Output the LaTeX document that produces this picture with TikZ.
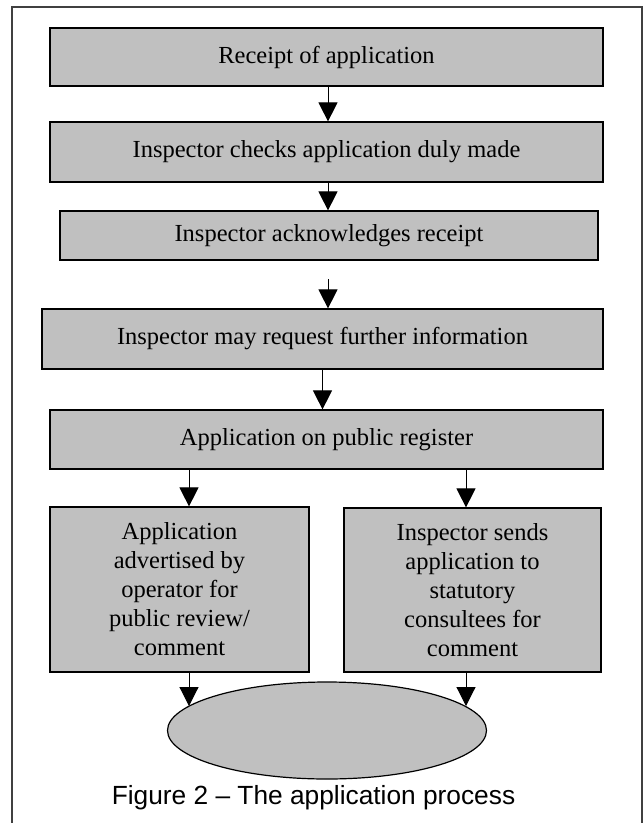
\documentclass[tikz,border=0pt]{standalone}
\usepackage{fontspec}
\setmainfont{Liberation Serif}
\newfontfamily\capfont{Liberation Sans}
\usetikzlibrary{shapes,arrows.meta}
\definecolor{boxgray}{RGB}{192,192,192}
\definecolor{framegray}{RGB}{64,64,64}

\begin{document}
\begin{tikzpicture}[x=1pt,y=-1pt,
  stage/.style={draw,fill=boxgray,line width=1.2pt,inner sep=0pt,align=center,font=\fontsize{24.5}{29}\selectfont},
  flow/.style={line width=1pt,-{Triangle[length=19pt,width=19pt]}}]
  \useasboundingbox (0,0) rectangle (644,823);
  \draw[framegray,line width=2pt] (12,823) -- (12,7) -- (642,7) -- (642,823);
  \node[stage,minimum width=553pt,minimum height=58pt] (receipt) at (326.5,57) {Receipt of application};
  \node[stage,minimum width=553pt,minimum height=60pt] (check) at (326.5,152) {Inspector checks application duly made};
  \node[stage,minimum width=538pt,minimum height=49pt] (ack) at (329,235.5) {Inspector acknowledges receipt};
  \node[stage,minimum width=561pt,minimum height=60pt] (reqinfo) at (322.5,339) {Inspector may request further information};
  \node[stage,minimum width=553pt,minimum height=59pt] (register) at (326.5,439.5) {Application on public register};
  \node[stage,minimum width=259pt,minimum height=165pt] (advert) at (179.5,589.5) {Application\\advertised by\\operator for\\public review/\\comment};
  \node[stage,minimum width=257pt,minimum height=164pt] (sends) at (472.5,590) {Inspector sends\\application to\\statutory\\consultees for\\comment};
  \node[stage,ellipse,minimum width=319pt,minimum height=97pt] (outcome) at (327,730.5) {};
  \node[font=\capfont\fontsize{26.3}{30}\selectfont] (caption) at (313.5,798) {Figure 2 – The application process};
  \coordinate (mid) at (328,0);
  \coordinate (gap) at (328,279);
  \coordinate (left) at (189,0);
  \coordinate (right) at (466,0);
  \draw[flow] (mid |- receipt.south) -- (mid |- check.north);
  \draw[flow] (mid |- check.south) -- (mid |- ack.north);
  \draw[flow] (gap) -- (gap |- reqinfo.north);
  \draw[flow] (reqinfo.south) -- (reqinfo.south |- register.north);
  \draw[flow] (left |- register.south) -- (left |- advert.north);
  \draw[flow] (right |- register.south) -- (right |- sends.north);
  \draw[flow] (left |- advert.south) -- (left |- outcome.170);
  \draw[flow] (right |- sends.south) -- (right |- outcome.10);
\end{tikzpicture}
\end{document}
